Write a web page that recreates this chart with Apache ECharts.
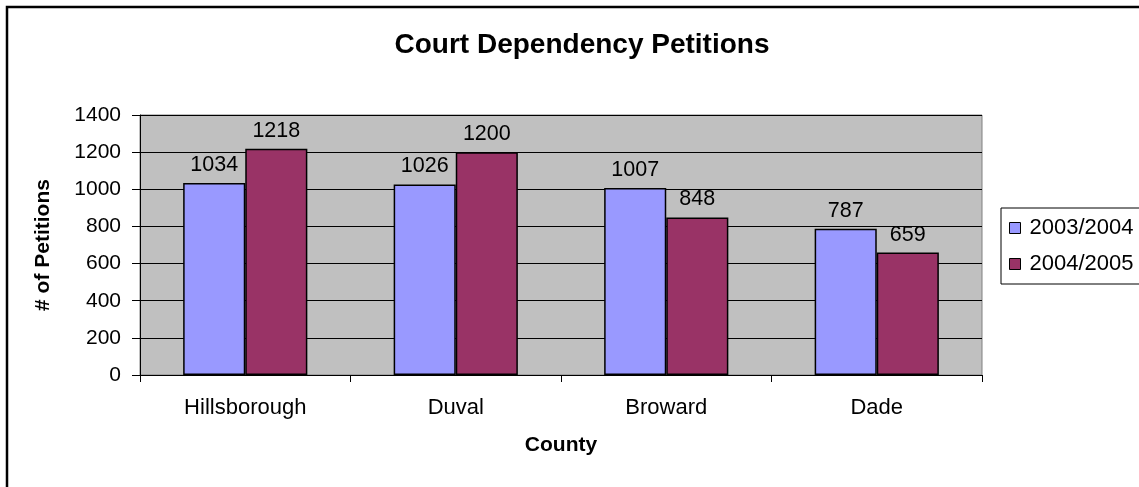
<!DOCTYPE html>
<html>
<head>
<meta charset="utf-8">
<script src="https://cdn.jsdelivr.net/npm/echarts@6/dist/echarts.min.js"></script>
<style>
  html, body { margin: 0; padding: 0; background: #fff; }
  #chart { width: 1139px; height: 487px; }
</style>
</head>
<body>
<div id="chart"></div>
<script>
// Court dependency petitions by county, two fiscal years
const counties = ['Hillsborough', 'Duval', 'Broward', 'Dade'];
const seriesNames = ['2003/2004', '2004/2005'];
const petitions0304 = [1034, 1026, 1007, 787];
const petitions0405 = [1218, 1200, 848, 659];
const yTicks = { min: 0, max: 1400, interval: 200 };

const FONT = '"Liberation Sans", Arial, sans-serif';

const chart = echarts.init(document.getElementById('chart'), null, { renderer: 'canvas' });

const barLabel = {
  show: true,
  position: 'top',
  distance: 7,
  color: '#000',
  fontFamily: FONT,
  fontSize: 21.5
};

chart.setOption({
  backgroundColor: '#fff',
  animation: false,
  title: {
    text: 'Court Dependency Petitions',
    left: 577,
    textAlign: 'center',
    top: 26,
    textStyle: { fontFamily: FONT, fontSize: 28, fontWeight: 'bold', color: '#000' }
  },
  graphic: [{
    type: 'rect',
    shape: { x: 7, y: 7, width: 1300, height: 700 },
    style: { fill: 'none', stroke: '#000', lineWidth: 2.5 },
    silent: true,
    z: 100
  }],
  legend: {
    orient: 'vertical',
    left: 1001,
    top: 208,
    padding: [9, 10, 9, 8],
    itemGap: 14,
    itemWidth: 11,
    itemHeight: 11,
    icon: 'rect',
    borderColor: '#000',
    borderWidth: 1,
    backgroundColor: '#fff',
    itemStyle: { borderColor: '#000', borderWidth: 1 },
    textStyle: { fontFamily: FONT, fontSize: 22, color: '#000', padding: [0, 0, 0, 4] },
    data: seriesNames
  },
  grid: {
    left: 140,
    top: 115,
    width: 842,
    height: 260,
    show: true,
    backgroundColor: '#C0C0C0',
    borderColor: '#808080',
    borderWidth: 1
  },
  xAxis: {
    type: 'category',
    data: counties,
    name: 'County',
    nameLocation: 'middle',
    nameGap: 60,
    nameMoveOverlap: false,
    nameTextStyle: { fontFamily: FONT, fontSize: 21, fontWeight: 'bold', color: '#000' },
    axisLine: { show: true, lineStyle: { color: '#000', width: 1 } },
    axisTick: { show: true, length: 7, lineStyle: { color: '#000' } },
    axisLabel: { margin: 22, fontFamily: FONT, fontSize: 22, color: '#000' },
    splitLine: { show: false }
  },
  yAxis: {
    type: 'value',
    min: yTicks.min,
    max: yTicks.max,
    interval: yTicks.interval,
    name: '# of Petitions',
    nameLocation: 'middle',
    nameRotate: 90,
    nameGap: 86,
    nameMoveOverlap: false,
    nameTextStyle: { fontFamily: FONT, fontSize: 21, fontWeight: 'bold', color: '#000' },
    axisLine: { show: true, lineStyle: { color: '#000', width: 1 } },
    axisTick: { show: true, length: 8, lineStyle: { color: '#000' } },
    axisLabel: {
      margin: 19,
      fontFamily: FONT,
      fontSize: 21,
      color: '#000',
      formatter: (v) => String(v)
    },
    splitLine: { show: true, lineStyle: { color: '#000', width: 1 } }
  },
  series: [
    {
      name: seriesNames[0],
      type: 'bar',
      data: petitions0304,
      barGap: '0%',
      barCategoryGap: '41%',
      itemStyle: { color: '#9999FF', borderColor: '#000', borderWidth: 1.5 },
      label: barLabel
    },
    {
      name: seriesNames[1],
      type: 'bar',
      data: petitions0405,
      barGap: '0%',
      barCategoryGap: '41%',
      itemStyle: { color: '#993366', borderColor: '#000', borderWidth: 1.5 },
      label: barLabel
    }
  ]
});
</script>
</body>
</html>
